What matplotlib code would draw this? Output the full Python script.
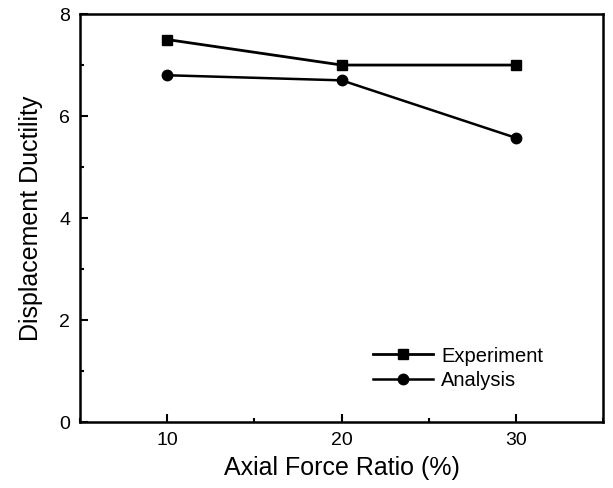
import matplotlib
matplotlib.use("Agg")
import matplotlib.pyplot as plt
from matplotlib.ticker import MultipleLocator

plt.rcParams['font.family'] = ['Liberation Sans', 'DejaVu Sans']

ratio = [10, 20, 30]
experiment = [7.5, 7.0, 7.0]
analysis = [6.8, 6.7, 5.57]

fig = plt.figure(figsize=(6.13, 4.88), dpi=100)
ax = fig.add_axes([0.1305, 0.1352, 0.854, 0.836])

ax.plot(ratio, experiment, color='black', lw=2.0, marker='s', markersize=7, label='Experiment')
ax.plot(ratio, analysis, color='black', lw=1.8, marker='o', markersize=7.5, label='Analysis')

ax.set_xlim(5, 35)
ax.set_ylim(0, 8)
ax.xaxis.set_major_locator(MultipleLocator(10))
ax.xaxis.set_minor_locator(MultipleLocator(5))
ax.yaxis.set_major_locator(MultipleLocator(2))
ax.yaxis.set_minor_locator(MultipleLocator(1))
ax.tick_params(which='both', direction='in', top=False, right=False, labelsize=14, width=1.5)
ax.tick_params(which='major', length=6, pad=7)
ax.tick_params(which='minor', length=3)
for s in ax.spines.values():
    s.set_linewidth(1.8)

ax.set_xlabel('Axial Force Ratio (%)', fontsize=18, labelpad=5)
ax.set_ylabel('Displacement Ductility', fontsize=18, labelpad=12)

ax.legend(loc='upper left', frameon=False, fontsize=14.5, handlelength=3.0,
          bbox_to_anchor=(0.559, 0.185), borderpad=0, borderaxespad=0,
          handletextpad=0.4, labelspacing=0.25)

fig.savefig('out.png', dpi=100)
